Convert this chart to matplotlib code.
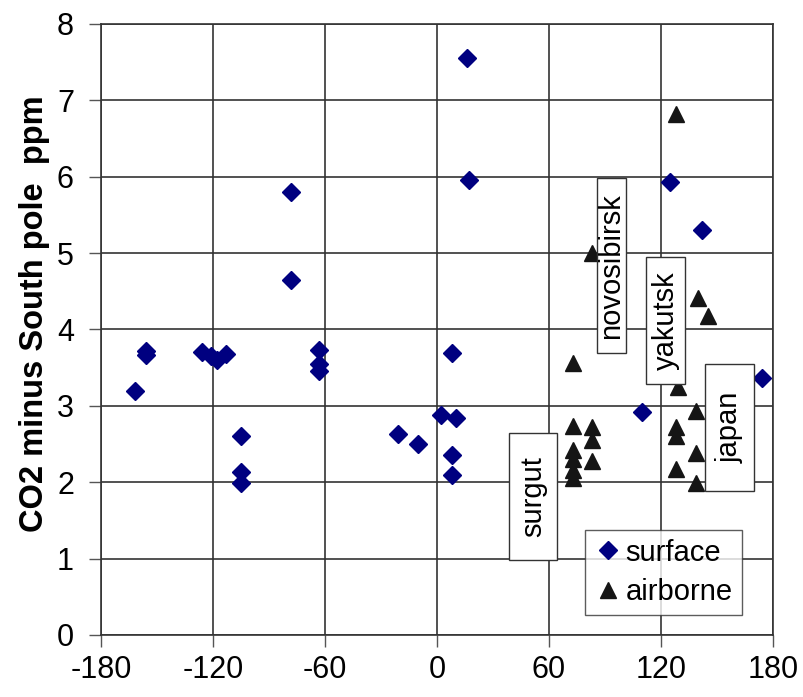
import numpy as np
import matplotlib.pyplot as plt
from matplotlib.patches import Rectangle

# surface stations (longitude, CO2 minus South pole)
surface_lon = [16, 17, -78, -78, -156, -156, -162, -126, -121, -118, -113,
               -63, -63, -63, -105, -105, -105, -21, -10, 2, 8, 10, 8, 8,
               110, 174, 125, 142]
surface_co2 = [7.55, 5.95, 5.8, 4.65, 3.72, 3.66, 3.2, 3.71, 3.65, 3.6, 3.68,
               3.73, 3.55, 3.45, 2.6, 2.14, 1.99, 2.63, 2.5, 2.88, 3.69, 2.84, 2.36, 2.1,
               2.92, 3.36, 5.93, 5.3]

# airborne profiles
air_lon = [128, 83, 140, 145, 73, 129,
           73, 83, 83, 73, 73, 83, 73, 73,
           139, 128, 128, 139, 128, 139]
air_co2 = [6.82, 5.0, 4.41, 4.17, 3.56, 3.25,
           2.73, 2.72, 2.55, 2.42, 2.3, 2.28, 2.16, 2.06,
           2.93, 2.72, 2.6, 2.38, 2.17, 1.99]

site_names = ['novosibirsk', 'yakutsk', 'surgut', 'japan']
# label boxes: (x0, y0, width, height) in axis units
site_boxes = [(85.5, 3.69, 16, 2.29), (112, 3.29, 21, 1.66),
              (38.5, 0.98, 26, 1.67), (143.5, 1.88, 26.5, 1.67)]

plt.rcParams['font.family'] = ['Liberation Sans', 'DejaVu Sans']
plt.rcParams['axes.unicode_minus'] = False

fig = plt.figure(figsize=(8.04, 6.97), dpi=100)
ax = fig.add_axes([0.1256, 0.089, 0.8358, 0.8767])

ax.plot(surface_lon, surface_co2, 'D', color='#000080', markersize=9,
        label='surface', zorder=3)
ax.plot(air_lon, air_co2, '^', color='#151515', markersize=11,
        label='airborne', zorder=3)

for name, (x0, y0, w, h) in zip(site_names, site_boxes):
    ax.add_patch(Rectangle((x0, y0), w, h, facecolor='white', edgecolor='#333333',
                           linewidth=1.0, zorder=4))
    ax.text(x0 + w / 2, y0 + h / 2, name, rotation=90, ha='center', va='center',
            fontsize=21, zorder=5)

ax.set_xlim(-180, 180)
ax.set_ylim(0, 8)
ax.set_xticks(np.arange(-180, 181, 60))
ax.set_yticks(np.arange(0, 9, 1))
ax.tick_params(labelsize=22, length=8.5, width=1, color='#555555')
ax.tick_params(axis='x', pad=6)
ax.tick_params(axis='y', pad=11)
ax.grid(True, color='#333333', linewidth=1.2)
ax.set_axisbelow(True)
for s in ax.spines.values():
    s.set_color('#333333')
    s.set_linewidth(1.2)

ax.set_ylabel('CO2 minus South pole  ppm', fontsize=23.5, fontweight='bold')
ax.yaxis.set_label_coords(-0.076, 0.525)

leg = ax.legend(loc='upper left', bbox_to_anchor=(0.72, 0.172), fontsize=21,
                frameon=True, fancybox=False, handletextpad=0.1, handlelength=1.0,
                borderpad=0.3, labelspacing=0.4, borderaxespad=0)
leg.get_frame().set_edgecolor('#333333')
leg.get_frame().set_linewidth(1.0)
leg.set_zorder(6)

fig.savefig('out.png', dpi=100)
